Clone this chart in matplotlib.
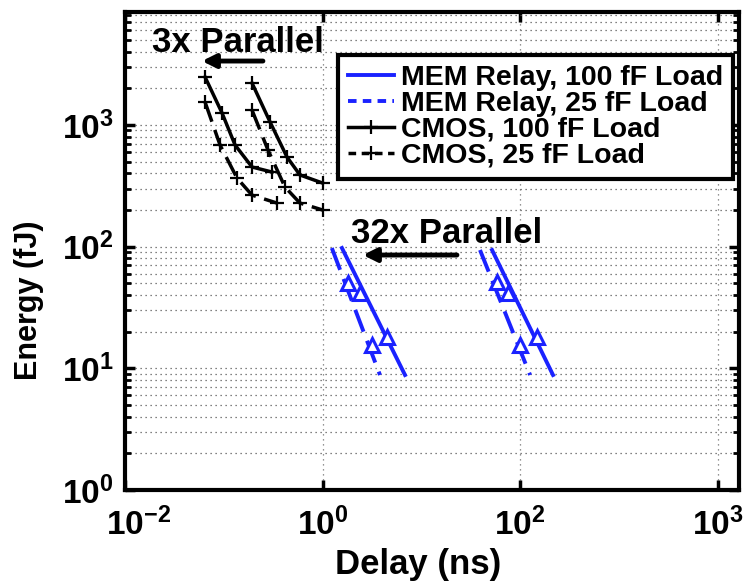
import matplotlib
matplotlib.use("Agg")
import matplotlib.pyplot as plt
import matplotlib.transforms as mtransforms
from matplotlib.ticker import FixedLocator, LogLocator, NullFormatter

plt.rcParams['font.family'] = ['Liberation Sans', 'DejaVu Sans']
plt.rcParams['font.weight'] = 'bold'
plt.rcParams['mathtext.fontset'] = 'custom'
plt.rcParams['mathtext.rm'] = 'Liberation Sans:bold'
plt.rcParams['mathtext.bf'] = 'Liberation Sans:bold'
plt.rcParams['mathtext.default'] = 'bf'

# ---- data ----
# CMOS, 100 fF load (1x) and 3x parallel
cmos100_x = [0.193, 0.294, 0.436, 0.590, 1.0]
cmos100_y = [2210, 1057, 545, 388, 333]
cmos100_3x_x = [0.0646, 0.096, 0.130, 0.193, 0.308]
cmos100_3x_y = [2475, 1253, 684, 451, 410]
# CMOS, 25 fF load (1x) and 3x parallel
cmos25_x = [0.193, 0.280, 0.416, 0.590, 1.0]
cmos25_y = [1325, 622, 309, 228, 200]
cmos25_3x_x = [0.0646, 0.0916, 0.136, 0.193, 0.345]
cmos25_3x_y = [1542, 684, 366, 265, 228]

# MEM relay, 100 fF load (1x) and 32x parallel
mem100_x = [51.9, 215]
mem100_y = [93.8, 8.81]
mem100_32x_x = [1.57, 6.83]
mem100_32x_y = [97.4, 8.81]
# MEM relay, 25 fF load (1x) and 32x parallel
mem25_x = [39.2, 126]
mem25_y = [93.8, 8.81]
mem25_32x_x = [1.24, 3.81]
mem25_32x_y = [97.4, 8.81]

# design points (triangles)
mem100_pts_x = [2.39, 4.49, 75.3, 148]
mem100_pts_y = [41.6, 18.1, 41.6, 18.1]
mem25_pts_x = [1.81, 3.16, 58.2, 99.6]
mem25_pts_y = [50.2, 15.5, 51.2, 15.5]

xtick_vals = [1e-2, 1e0, 1e2, 1e4]
xtick_labels = [r'$10^{-2}$', r'$10^{0}$', r'$10^{2}$', r'$10^{3}$']
ytick_vals = [1e0, 1e1, 1e2, 1e3]
ytick_labels = [r'$10^{0}$', r'$10^{1}$', r'$10^{2}$', r'$10^{3}$']

legend_labels = ['MEM Relay, 100 fF Load', 'MEM Relay, 25 fF Load',
                 'CMOS, 100 fF Load', 'CMOS, 25 fF Load']

BLUE = '#1a22ff'
LW = 2.5
LWB = 2.8
DASH = (0, (6, 2.5))

fig = plt.figure(figsize=(7.52, 5.86), dpi=100)
ax = fig.add_axes([125/752, 1-490/586, (739-125)/752, (490-12)/586])
ax.set_xscale('log')
ax.set_yscale('log')
ax.set_xlim(1e-2, 10**4.215)
ax.set_ylim(1, 10**3.928)

# MEM relay lines
ax.plot(mem100_x, mem100_y, color=BLUE, lw=LWB, label=legend_labels[0])
ax.plot(mem100_32x_x, mem100_32x_y, color=BLUE, lw=LWB)
ax.plot(mem25_x, mem25_y, color=BLUE, lw=LWB, linestyle=DASH, label=legend_labels[1])
ax.plot(mem25_32x_x, mem25_32x_y, color=BLUE, lw=LWB, linestyle=DASH)
ax.plot(mem100_pts_x, mem100_pts_y, linestyle='none', marker='^', ms=9.5,
        mfc='white', mec=BLUE, mew=2.2)
ax.plot(mem25_pts_x, mem25_pts_y, linestyle='none', marker='^', ms=9.5,
        mfc='white', mec=BLUE, mew=2.2)

# CMOS lines
ax.plot(cmos100_x, cmos100_y, color='black', lw=LW, marker='+', ms=10, mew=1.6,
        label=legend_labels[2])
ax.plot(cmos100_3x_x, cmos100_3x_y, color='black', lw=LW, marker='+', ms=10, mew=1.6)
ax.plot(cmos25_x, cmos25_y, color='black', lw=LW, linestyle=DASH, marker='+', ms=10,
        mew=1.6, label=legend_labels[3])
ax.plot(cmos25_3x_x, cmos25_3x_y, color='black', lw=LW, linestyle=DASH, marker='+',
        ms=10, mew=1.6)

# ticks and grid
ax.xaxis.set_major_locator(FixedLocator(xtick_vals))
ax.xaxis.set_minor_locator(FixedLocator([]))
ax.set_xticklabels(xtick_labels)
ax.yaxis.set_major_locator(FixedLocator(ytick_vals))
ax.yaxis.set_minor_locator(LogLocator(base=10, subs=range(2, 10)))
ax.yaxis.set_minor_formatter(NullFormatter())
ax.set_yticklabels(ytick_labels)
ax.tick_params(which='both', direction='in', top=True, right=True)
ax.tick_params(which='major', length=7, width=2.5, labelsize=24)
ax.tick_params(axis='x', which='major', pad=13)
ax.tick_params(axis='y', which='major', pad=8)
ax.tick_params(which='minor', length=4, width=2)
ax.grid(True, which='major', axis='x', linestyle=(0, (1, 3)), color='0.45', lw=0.9)
ax.grid(True, which='both', axis='y', linestyle=(0, (1, 3)), color='0.35', lw=0.9)
for s in ax.spines.values():
    s.set_linewidth(3)

# shift the first x tick label slightly right, as in the reference
first_lbl = ax.xaxis.get_major_ticks()[0].label1
first_lbl.set_transform(first_lbl.get_transform() +
                        mtransforms.ScaledTranslation(0.14, 0, fig.dpi_scale_trans))

ax.set_xlabel('Delay (ns)', fontsize=25, fontweight='bold')
ax.xaxis.set_label_coords((418 - 125) / 614, (490 - 548) / 478)
ax.set_ylabel('Energy (fJ)', fontsize=22, fontweight='bold')
ax.yaxis.set_label_coords((44 - 125) / 614, (490 - 300) / 478)

# annotations
ax.text(0.139, 4800, '3x Parallel', fontsize=25, fontweight='bold',
        ha='center', va='center')
ax.annotate('', xy=(0.0601, 3350), xytext=(0.249, 3350),
            arrowprops=dict(arrowstyle='-|>,head_length=0.8,head_width=0.4',
                            lw=3.5, color='black', shrinkA=0, shrinkB=0))
ax.text(18.2, 129, '32x Parallel', fontsize=25, fontweight='bold',
        ha='center', va='center')
ax.annotate('', xy=(2.56, 85.3), xytext=(22.9, 85.3),
            arrowprops=dict(arrowstyle='-|>,head_length=0.8,head_width=0.4',
                            lw=3.5, color='black', shrinkA=0, shrinkB=0))

leg = ax.legend(loc='upper right', fontsize=20.5, frameon=True, fancybox=False,
                framealpha=1, edgecolor='black', handlelength=1.6,
                handletextpad=0.25, labelspacing=0.0, borderpad=0.35,
                borderaxespad=0,
                bbox_to_anchor=((733 - 125) / 614, (490 - 55) / 478),
                bbox_transform=ax.transAxes)
leg.get_frame().set_linewidth(3)
for i in (1, 3):
    leg.get_lines()[i].set_linestyle((0, (2.2, 1.6)))

fig.savefig('out.png', dpi=100)
